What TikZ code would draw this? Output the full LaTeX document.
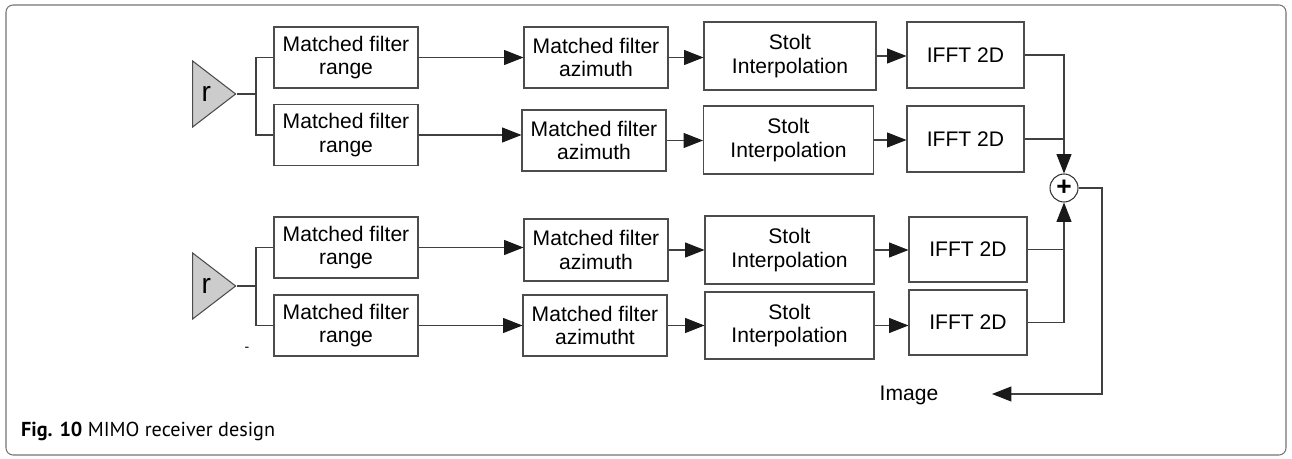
\documentclass[tikz,border=0pt]{standalone}
\usepackage{fontspec}
\setmainfont{Liberation Sans}
\newfontfamily\capfont{PT Sans}
\usepackage{tikz}
\usetikzlibrary{arrows.meta}
\usetikzlibrary{shapes.geometric}

\tikzset{
  block/.style={draw=black!70, line width=0.6pt, align=center, inner sep=0pt,
    font=\fontsize{12}{13.5}\selectfont},
  amp/.style={isosceles triangle, isosceles triangle stretches, draw=black!70,
    fill=black!20, line width=0.6pt, inner sep=0pt, minimum height=0.86cm,
    minimum width=1.32cm, font=\fontsize{16}{16}\selectfont},
  sumnode/.style={circle, draw=black!80, line width=0.6pt, inner sep=0pt,
    minimum size=0.56cm, font=\fontsize{15}{15}\selectfont\bfseries},
  wire/.style={draw=black!75, line width=0.6pt},
  flow/.style={wire, -{Triangle[length=11pt,width=8.5pt,color=black!90]}}
}

\begin{document}
\begin{tikzpicture}[x=0.02cm, y=-0.02cm]
  \useasboundingbox (0,0) rectangle (1292,459);

  % Frame round the figure
  \draw[black!55, line width=0.6pt, rounded corners=4pt] (6,5) rectangle (1286,455);

  % Receiving antennas
  \node[amp, anchor=apex] (amp1) at (237,94) {r\hspace{6pt}};
  \node[amp, anchor=apex] (amp2) at (237,286) {r\hspace{6pt}};
  \coordinate (j1) at (256,94);
  \coordinate (j2) at (256,286);

  % First receiver: two chains
  \node[block, minimum width=2.88cm, minimum height=1.22cm] (mfr1) at (346,57.5) {Matched filter\\range};
  \node[block, minimum width=2.88cm, minimum height=1.22cm] (mfr2) at (346,135) {Matched filter\\range};
  \node[block, minimum width=2.88cm, minimum height=1.22cm] (mfa1) at (596,57.5) {Matched filter\\azimuth};
  \node[block, minimum width=2.88cm, minimum height=1.22cm] (mfa2) at (594,140.5) {Matched filter\\azimuth};
  \node[block, minimum width=3.44cm, minimum height=1.36cm] (stolt1) at (790,56) {Stolt\\Interpolation};
  \node[block, minimum width=3.40cm, minimum height=1.36cm] (stolt2) at (788.5,140) {Stolt\\Interpolation};
  \node[block, minimum width=2.34cm, minimum height=1.32cm] (ifft1) at (965.5,55) {IFFT 2D};
  \node[block, minimum width=2.34cm, minimum height=1.32cm] (ifft2) at (965.5,139) {IFFT 2D};

  % Second receiver: two chains
  \node[block, minimum width=2.88cm, minimum height=1.22cm] (mfr3) at (346,247.5) {Matched filter\\range};
  \node[block, minimum width=2.88cm, minimum height=1.22cm] (mfr4) at (346,325.5) {Matched filter\\range};
  \node[block, minimum width=2.88cm, minimum height=1.24cm] (mfa3) at (596,250) {Matched filter\\azimuth};
  \node[block, minimum width=2.88cm, minimum height=1.22cm] (mfa4) at (595,325.5) {Matched filter\\azimutht};
  \node[block, minimum width=3.38cm, minimum height=1.36cm] (stolt3) at (789.5,250) {Stolt\\Interpolation};
  \node[block, minimum width=3.38cm, minimum height=1.34cm] (stolt4) at (789.5,325.5) {Stolt\\Interpolation};
  \node[block, minimum width=2.36cm, minimum height=1.30cm] (ifft3) at (968,249.5) {IFFT 2D};
  \node[block, minimum width=2.36cm, minimum height=1.30cm] (ifft4) at (968,322.5) {IFFT 2D};
  \node[font=\fontsize{8}{8}\selectfont] (dash) at (247,349) {-};

  % Summation and output
  \node[sumnode] (sum) at (1064,188) {+};
  \coordinate (corner) at (1102,394);
  \coordinate (imgin) at (992,394);
  \node[font=\fontsize{12}{13.5}\selectfont] (img) at (909,395) {Image};

  % Split the antenna signals
  \draw[wire] (amp1.apex) -- (j1);
  \draw[wire] (j1) |- (mfr1.west);
  \draw[wire] (j1) |- (mfr2.west);
  \draw[wire] (amp2.apex) -- (j2);
  \draw[wire] (j2) |- (mfr3.west);
  \draw[wire] (j2) |- (mfr4.west);

  % Processing chains
  \foreach \i in {1,2,3,4} {
    \draw[flow] (mfr\i.east) -- (mfr\i.east -| mfa\i.west);
    \draw[flow] (mfa\i.east) -- (mfa\i.east -| stolt\i.west);
    \draw[flow] (stolt\i.east) -- (stolt\i.east -| ifft\i.west);
  }

  % Combine the images
  \draw[flow] (ifft1.east) -| (sum.north);
  \draw[wire] (ifft2.east) -- (ifft2.east -| sum.north);
  \draw[flow] (ifft4.east) -| (sum.south);
  \draw[wire] (ifft3.east) -- (ifft3.east -| sum.south);
  \draw[flow] (sum.east) -| (corner) -- (imgin);

  % Caption
  \node[anchor=west, font=\capfont\fontsize{11.5}{13}\selectfont] (caption) at (15,431)
    {\textbf{Fig. 10} MIMO receiver design};
\end{tikzpicture}
\end{document}
